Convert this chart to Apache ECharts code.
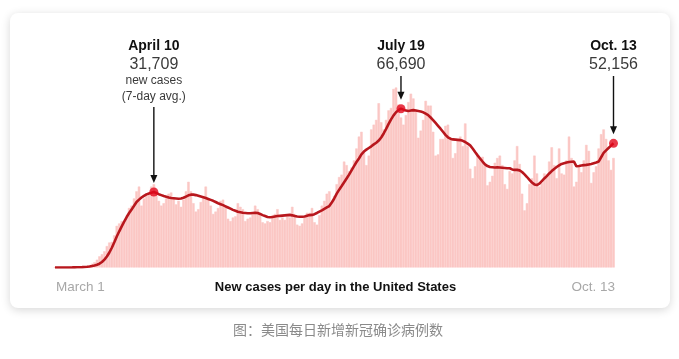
<!DOCTYPE html>
<html>
<head>
<meta charset="utf-8">
<script src="https://cdn.jsdelivr.net/npm/echarts@6/dist/echarts.min.js"></script>
<style>
html,body{margin:0;padding:0;background:#ffffff;}
#chart{width:679px;height:359px;}
</style>
</head>
<body>
<div id="chart"></div>
<script>
// ---- Data ----
// 7-day average of new cases, one value per day from March 1 to Oct. 13
const avgCases = [
  5, 6, 8, 10, 14, 20, 28,
  40, 55, 75, 110, 160, 230, 320,
  450, 620, 850, 1150, 1600, 2300, 3300,
  4600, 6300, 8300, 10600, 13000, 15200, 17300,
  19300, 21200, 22900, 24400, 25900, 27500, 28500,
  29400, 30100, 30700, 31100, 31400, 31709, 31300,
  30800, 30400, 30000, 29700, 29400, 29200, 29100,
  29000, 28900, 29000, 29300, 29800, 30300, 30600,
  30600, 30400, 30100, 29800, 29500, 29200, 28800,
  28400, 28000, 27500, 27000, 26600, 26200, 25700,
  25200, 24700, 24200, 23800, 23400, 23200, 23000,
  22900, 22800, 22800, 22900, 23000, 22900, 22500,
  22000, 21600, 21200, 21100, 21200, 21400, 21600,
  21700, 21800, 21900, 22000, 22100, 21900, 21600,
  21400, 21300, 21300, 21400, 21700, 22000, 22100,
  22400, 22900, 23500, 24000, 24600, 25200, 25800,
  27300, 29000, 31000, 32700, 34200, 35800, 37400,
  39000, 40800, 42600, 44300, 45800, 47500, 48700,
  49500, 50200, 50900, 51700, 52400, 53300, 54600,
  56300, 58200, 60300, 62200, 63900, 65200, 66100,
  66690, 66300, 65900, 65700, 65900, 66100, 65900,
  65700, 65500, 65200, 64600, 64000, 63000, 61900,
  60700, 59500, 58300, 57000, 55700, 54700, 54100,
  53800, 53700, 53600, 53500, 53200, 52700, 52000,
  51300, 50000, 48500, 47100, 45800, 44500, 43300,
  42600, 42200, 42100, 42000, 42100, 42000, 41900,
  41800, 41700, 41700, 41200, 41000, 41000, 40800,
  40100, 39100, 38000, 36800, 35700, 34900, 34600,
  35200, 36300, 37400, 38400, 39500, 40500, 41400,
  42200, 42900, 43500, 43800, 44100, 44300, 44400,
  44500, 42500, 42600, 42800, 43000, 43100, 43300,
  43500, 43800, 44100, 44500, 46300, 48100, 49200,
  50200, 51200, 52156
];
// Reported new cases for each day
const dailyCases = [
  5, 12, 20, 25, 35, 60, 70,
  90, 160, 240, 300, 450, 500, 650,
  1000, 1600, 2200, 3300, 4700, 5600, 6800,
  9000, 10500, 10800, 13500, 17500, 18500, 19500,
  19000, 21000, 25000, 26000, 29000, 32000, 34000,
  26000, 29000, 31000, 31000, 34000, 35000, 31000,
  28000, 26000, 27000, 29000, 31000, 31500, 29000,
  26500, 28000, 25500, 28500, 32000, 36000, 32000,
  27000, 23500, 24500, 27500, 30000, 34000, 29000,
  26000, 22500, 23500, 25000, 28000, 28500, 26000,
  20500, 19500, 21000, 21500, 27000, 25500, 24500,
  19500, 20500, 21000, 22500, 26000, 24500, 23000,
  19000, 18500, 19500, 19000, 22000, 22500, 24500,
  20000, 21000, 20000, 21500, 21000, 25500, 22500,
  18000, 17500, 18500, 21000, 23000, 23000, 25000,
  19000, 18000, 22000, 26000, 28000, 31000, 32000,
  27000, 30000, 35000, 38000, 39000, 44500, 43000,
  40500, 42000, 45000, 50000, 55000, 57000, 49000,
  43000, 47000, 58000, 60000, 62000, 69000, 61000,
  58000, 62000, 66000, 67000, 75000, 75600, 68500,
  63000, 60000, 64000, 69500, 73000, 71000, 66000,
  54500, 57500, 62000, 70000, 68000, 68000, 57000,
  47000, 47500, 54000, 54000, 59500, 60000, 54000,
  46000, 48000, 53500, 55000, 51000, 60500, 51000,
  41500, 37500, 42500, 47000, 45500, 46500, 43500,
  34500, 36000, 38500, 44000, 46000, 47000, 43000,
  35000, 33000, 40500, 39500, 45000, 51000, 43500,
  31000, 24000, 27000, 35000, 37500, 47000, 39500,
  34000, 35500, 39500, 39000, 44500, 50500, 43000,
  37500, 50000, 39500, 39000, 45000, 55000, 46000,
  34000, 36000, 42500, 40000, 45000, 51500, 49000,
  35500, 40000, 42500, 50000, 56000, 58000, 54000,
  45000, 41000, 46000
];
// Annotated days
const annoIndex = [40, 140, 226];
const annoDates = ['April 10', 'July 19', 'Oct. 13'];
const annoValues = [31709, 66690, 52156];
const annoNotes = ['new cases', '(7-day avg.)'];
const startLabel = 'March 1';
const endLabel = 'Oct. 13';
const chartTitle = 'New cases per day in the United States';
const caption = '图：美国每日新增新冠确诊病例数';

// categories: consecutive days from March 1, 2020
const categories = [];
for (let i = 0; i < avgCases.length; i++) {
  const d = new Date(Date.UTC(2020, 2, 1 + i));
  categories.push(d.toISOString().slice(0, 10));
}

const chart = echarts.init(document.getElementById('chart'), null, {renderer: 'canvas'});
const FONT = '"Liberation Sans", Arial, sans-serif';

chart.setOption({
  animation: false,
  backgroundColor: '#ffffff',
  grid: {left: 55, right: 65.5, top: 29.4, bottom: 91.5},
  xAxis: {
    type: 'category', data: categories, boundaryGap: false,
    show: false
  },
  yAxis: {type: 'value', min: 0, max: 100000, show: false},
  series: [
    {
      type: 'bar', data: dailyCases, barCategoryGap: '0%',
      itemStyle: {color: '#fbc7c4', borderColor: '#fbc7c4', borderWidth: 0.5}, z: 2, silent: true
    },
    {
      type: 'line', data: avgCases, symbol: 'none', smooth: false,
      lineStyle: {color: '#b8171d', width: 2.6}, z: 3, silent: true
    },
    {
      type: 'scatter',
      data: annoIndex.map((i, k) => [i, annoValues[k]]),
      symbolSize: 9, itemStyle: {color: '#e2071c'}, z: 4, silent: true
    }
  ]
});

function draw() {
  const g = [];
  g.push({
    type: 'rect', z: -10,
    shape: {x: 10, y: 13, width: 660, height: 295, r: 8},
    style: {fill: '#ffffff', shadowBlur: 10, shadowColor: 'rgba(0,0,0,0.16)', shadowOffsetY: 2}
  });
  annoIndex.forEach((idx, k) => {
    const p = chart.convertToPixel({seriesIndex: 2}, [idx, annoValues[k]]);
    const x = p[0];
    g.push({type: 'text', z: 10, style: {text: annoDates[k], x: x, y: 46, textAlign: 'center', textVerticalAlign: 'middle', font: 'bold 14px ' + FONT, fill: '#111'}});
    g.push({type: 'text', z: 10, style: {text: annoValues[k].toLocaleString('en-US'), x: x, y: 65, textAlign: 'center', textVerticalAlign: 'middle', font: '16px ' + FONT, fill: '#3a3a3a'}});
    let top = 76;
    if (k === 0) {
      g.push({type: 'text', z: 10, style: {text: annoNotes[0], x: x, y: 81, textAlign: 'center', textVerticalAlign: 'middle', font: '12px ' + FONT, fill: '#3a3a3a'}});
      g.push({type: 'text', z: 10, style: {text: annoNotes[1], x: x, y: 97, textAlign: 'center', textVerticalAlign: 'middle', font: '12px ' + FONT, fill: '#3a3a3a'}});
      top = 107;
    }
    const tip = p[1] - 9;
    g.push({type: 'line', z: 10, shape: {x1: x, y1: top, x2: x, y2: tip - 6}, style: {stroke: '#111', lineWidth: 1.4}});
    g.push({type: 'polygon', z: 10, shape: {points: [[x - 3.5, tip - 8], [x + 3.5, tip - 8], [x, tip]]}, style: {fill: '#111'}});
  });
  const left = chart.convertToPixel({xAxisIndex: 0}, 0);
  const right = chart.convertToPixel({xAxisIndex: 0}, categories.length - 1);
  g.push({type: 'text', z: 10, style: {text: startLabel, x: left + 1, y: 287, textAlign: 'left', textVerticalAlign: 'middle', font: '13.5px ' + FONT, fill: '#a8a8a8'}});
  g.push({type: 'text', z: 10, style: {text: endLabel, x: right + 1.5, y: 287, textAlign: 'right', textVerticalAlign: 'middle', font: '13.5px ' + FONT, fill: '#a8a8a8'}});
  g.push({type: 'text', z: 10, style: {text: chartTitle, x: 335.5, y: 287, textAlign: 'center', textVerticalAlign: 'middle', font: 'bold 13px ' + FONT, fill: '#121212'}});
  g.push({type: 'text', z: 10, style: {text: caption, x: 338, y: 330, textAlign: 'center', textVerticalAlign: 'middle', font: '14px "Noto Sans CJK SC", sans-serif', fill: '#8a8a8a'}});
  chart.setOption({graphic: g});
}
draw();
</script>
</body>
</html>
